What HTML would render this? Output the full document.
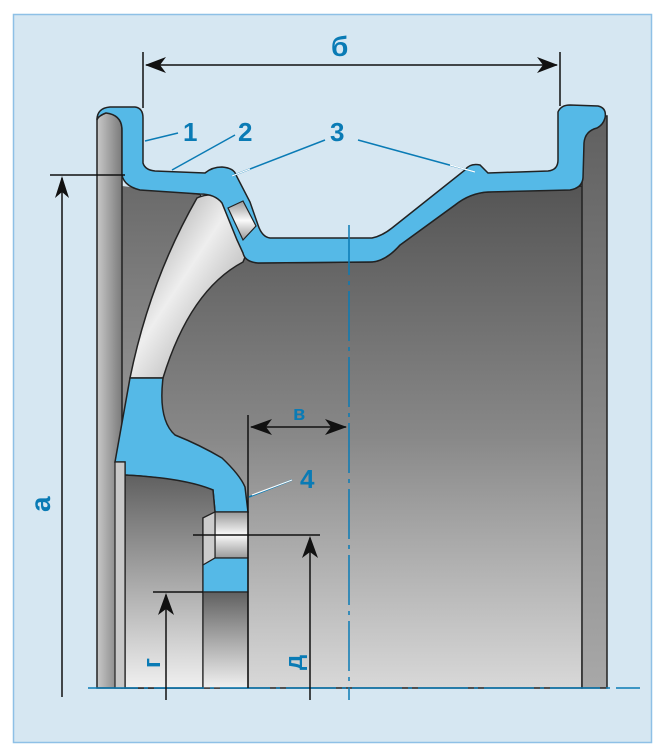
<!DOCTYPE html>
<html><head><meta charset="utf-8"><style>
html,body{margin:0;padding:0;background:#fff;}
svg{display:block}
text{font-family:"Liberation Sans",sans-serif;font-weight:bold;fill:#0a7bb5}
</style></head><body>
<svg width="659" height="748" viewBox="0 0 659 748" xmlns="http://www.w3.org/2000/svg">
<defs>
<linearGradient id="dk" x1="0" y1="0" x2="0" y2="1">
<stop offset="0" stop-color="#555"/><stop offset="0.5" stop-color="#888"/><stop offset="1" stop-color="#d8d8d8"/></linearGradient>
<linearGradient id="fl" x1="0" y1="0" x2="1" y2="0">
<stop offset="0" stop-color="#c8c8c8"/><stop offset="1" stop-color="#7a7a7a"/></linearGradient>
<linearGradient id="fr" x1="0" y1="0" x2="0" y2="1">
<stop offset="0" stop-color="#606060"/><stop offset="1" stop-color="#a8a8a8"/></linearGradient>
<linearGradient id="lm" x1="0" y1="0" x2="0" y2="1">
<stop offset="0" stop-color="#6a6a6a"/><stop offset="1" stop-color="#c8c8c8"/></linearGradient>
<linearGradient id="sp" x1="0" y1="0" x2="1" y2="1">
<stop offset="0" stop-color="#8a8a8a"/><stop offset="0.45" stop-color="#eeeeee"/><stop offset="1" stop-color="#8a8a8a"/></linearGradient>
<linearGradient id="hub" x1="0" y1="0" x2="0" y2="1">
<stop offset="0" stop-color="#606060"/><stop offset="1" stop-color="#f0f0f0"/></linearGradient>
<linearGradient id="cyl" x1="0" y1="0" x2="0" y2="1">
<stop offset="0" stop-color="#999"/><stop offset="0.5" stop-color="#fafafa"/><stop offset="1" stop-color="#999"/></linearGradient>
</defs>
<rect x="13.5" y="14.5" width="638" height="728" fill="#d6e7f2" stroke="#8ec0e6" stroke-width="1.5"/>

<!-- big dark interior -->
<path d="M122 188 L200 195 L243 253 L258 263 L370 262 Q385 262 400 245 L455 205 Q470 193 488 192 L583 186 L582 688 L122 688 Z" fill="url(#dk)" stroke="#222" stroke-width="1.5"/>
<!-- left interior -->
<path d="M122 186 L200 195 L130 380 L117 462 L122 688 Z" fill="url(#lm)"/>
<!-- spoke metallic band -->
<path d="M197 198 Q210 192 225 197 L250 245 L243 262 Q190 290 163 378 L130 378 Q150 280 197 198 Z" fill="url(#sp)" stroke="#222" stroke-width="1.5"/>
<!-- right flange -->
<path d="M582 130 Q585 118 598 116 L607 116 L607 688 L582 688 Z" fill="url(#fr)" stroke="#222" stroke-width="1.5"/>
<!-- left flange -->
<path d="M97 120 Q97 112 106 112 Q122 115 122 130 L122 688 L97 688 Z" fill="url(#fl)" stroke="#222" stroke-width="1.5"/>

<!-- blue rim profile -->
<path d="M97 120 Q97 108 110 107 L135 107 Q143 108 143 118 L143 163 Q145 170 155 171 L205 173 Q212 167 222 167 Q234 168 236 175 L250 202 L258 225 Q262 237 270 238 L372 238 Q382 236 392 228 L465 170 Q470 163 480 165 L488 173 L548 171 Q558 170 558 160 L558 112 Q561 105 570 105 L598 106 Q607 108 605 118 Q603 125 597 128 Q585 131 584 143 L583 178 Q582 188 570 190 L488 192 Q470 193 455 205 L400 245 Q385 262 370 262 L258 263 Q245 262 243 253 L237 240 L222 203 Q215 194 200 194 L140 190 Q124 186 122 175 L122 130 Q122 115 106 113 Q98 116 97 120 Z" fill="#55b9e7" stroke="#222" stroke-width="1.5"/>
<!-- valve -->
<path d="M228 208 L243 201 L256 226 L243 240 Z" fill="url(#cyl)" stroke="#222" stroke-width="1.2"/>

<!-- disc blue lower -->
<path d="M130 378 L163 378 Q158 420 175 435 Q200 445 222 458 Q240 475 245 487 L248 512 L215 512 L213 490 Q180 478 125 475 L125 462 L115 462 Z" fill="#55b9e7" stroke="#222" stroke-width="1.5"/>
<!-- hub cavity -->
<path d="M125 475 Q185 478 213 490 L215 512 L203 518 L203 688 L125 688 Z" fill="url(#hub)" stroke="#222" stroke-width="1.5"/>
<path d="M115 462 L125 462 L125 688 L115 688 Z" fill="#c8c8c8" stroke="#222" stroke-width="1.2"/>
<!-- hub face -->
<rect x="215" y="512" width="33" height="46" fill="url(#cyl)" stroke="#222" stroke-width="1.2"/>
<path d="M203 518 L215 512 L215 558 L203 565 Z" fill="#ccc" stroke="#222" stroke-width="1.2"/>
<path d="M203 565 L215 558 L248 558 L248 592 L203 592 Z" fill="#55b9e7" stroke="#222" stroke-width="1.2"/>
<rect x="203" y="592" width="45" height="96" fill="url(#hub)" stroke="#222" stroke-width="1.2"/>

<!-- centre lines -->
<line x1="349" y1="225" x2="349" y2="700" stroke="#0a7bb5" stroke-width="1.5" stroke-dasharray="50 6 4 6"/>
<line x1="88" y1="688" x2="640" y2="688" stroke="#0a7bb5" stroke-width="1.5" stroke-dasharray="50 6 4 6"/>

<!-- dimension lines -->
<g stroke="#111" stroke-width="1.5" fill="none">
<line x1="143" y1="52" x2="143" y2="108"/><line x1="560" y1="52" x2="560" y2="106"/>
<line x1="146" y1="65" x2="557" y2="65"/>
<line x1="50" y1="175" x2="125" y2="175"/>
<line x1="62" y1="178" x2="62" y2="697"/>
<line x1="248" y1="415" x2="248" y2="688"/>
<line x1="251" y1="427" x2="346" y2="427"/>
<line x1="153" y1="592" x2="203" y2="592"/>
<line x1="166" y1="595" x2="166" y2="700"/>
<line x1="193" y1="535" x2="320" y2="535"/>
<line x1="310" y1="538" x2="310" y2="700"/>
</g>
<g fill="#111">
<path d="M145 65 L166 57 L160 65 L166 73 Z"/><path d="M558 65 L537 57 L543 65 L537 73 Z"/>
<path d="M62 176 L55 198 L62 192 L69 198 Z"/>
<path d="M250 427 L272 419 L266 427 L272 435 Z"/><path d="M347 427 L325 419 L331 427 L325 435 Z"/>
<path d="M166 593 L158 615 L166 609 L174 615 Z"/>
<path d="M310 536 L302 558 L310 552 L318 558 Z"/>
</g>

<!-- leaders -->
<g stroke="#0a7bb5" stroke-width="1.5">
<line x1="145" y1="141" x2="178" y2="133"/>
<line x1="172" y1="170" x2="235" y2="135"/>
<line x1="232" y1="176" x2="325" y2="140"/>
<line x1="358" y1="140" x2="475" y2="172"/>
<line x1="249" y1="497" x2="292" y2="480"/>
</g>
<g stroke="#fff" stroke-width="1.2">
<line x1="232" y1="176" x2="250" y2="169"/>
<line x1="450" y1="165" x2="475" y2="172"/>
<line x1="252" y1="495" x2="292" y2="480"/>
</g>

<text x="331" y="56" font-size="28">б</text>
<text x="183" y="141" font-size="26">1</text>
<text x="238" y="141" font-size="26">2</text>
<text x="330" y="141" font-size="26">3</text>
<text x="300" y="488" font-size="26">4</text>
<text x="293" y="420" font-size="20">в</text>
<text transform="translate(50,512) rotate(-90)" font-size="28">а</text>
<text transform="translate(160,668) rotate(-90)" font-size="24">г</text>
<text transform="translate(302,670) rotate(-90)" font-size="24">д</text>
</svg>
</body></html>
